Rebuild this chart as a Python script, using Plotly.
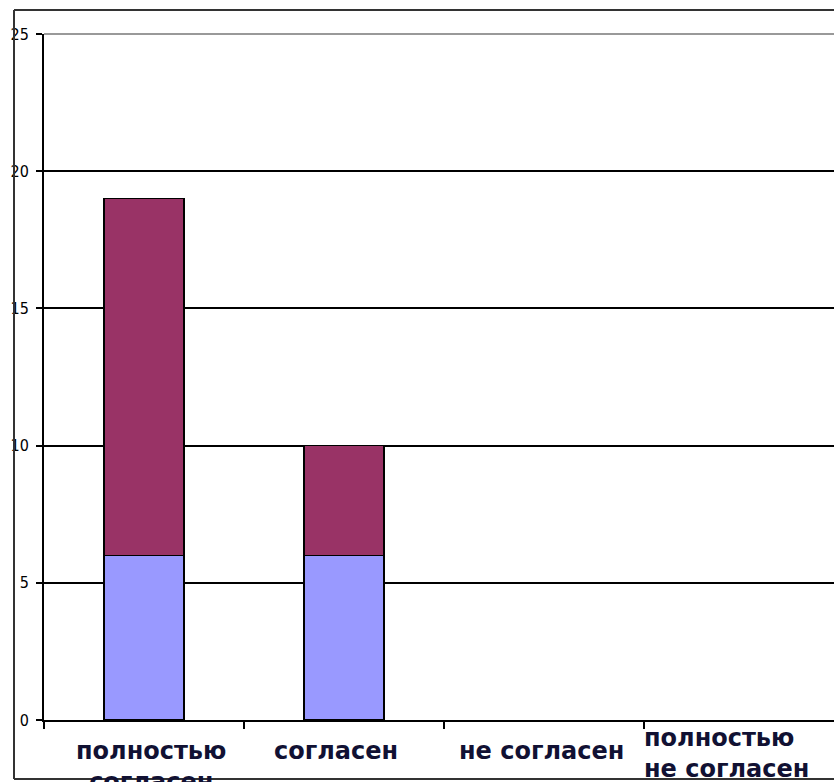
import plotly.graph_objects as go

categories = ["полностью согласен", "согласен", "не согласен", "полностью не согласен"]
series_lower = [6, 6, 0, 0]
series_upper = [13, 4, 0, 0]
label_texts = ["полностью<br>согласен", "согласен", "не согласен", "полностью<br>не согласен"]
y_ticks = [0, 5, 10, 15, 20, 25]

edge_w = [1.5, 1.5, 0, 0]

fig = go.Figure()
fig.add_trace(go.Bar(x=categories, y=series_lower, width=0.4,
                     marker=dict(color="#9999FF", line=dict(color="black", width=edge_w)),
                     showlegend=False))
fig.add_trace(go.Bar(x=categories, y=series_upper, width=0.4,
                     marker=dict(color="#993366", line=dict(color="black", width=edge_w)),
                     showlegend=False))

# category labels as annotations (placement tuned to the reference)
label_cfg = [
    dict(xshift=7, y=-0.022, yanchor="top", xanchor="center", align="center"),
    dict(xshift=-8, y=-0.022, yanchor="top", xanchor="center", align="center"),
    dict(xshift=-3, y=-0.022, yanchor="top", xanchor="center", align="center"),
    dict(xshift=-102, y=-0.003, yanchor="top", xanchor="left", align="left"),
]
for cat, txt, cfg in zip(categories, label_texts, label_cfg):
    fig.add_annotation(x=cat, xref="x", yref="paper", text=txt, showarrow=False,
                       font=dict(family="DejaVu Sans", size=24, color="#111133", weight="bold"),
                       **cfg)

fig.update_layout(
    width=834, height=782,
    margin=dict(l=44, r=0, t=34, b=62),
    barmode="stack",
    plot_bgcolor="white", paper_bgcolor="white",
    xaxis=dict(type="category", range=[-0.5, 3.45], showticklabels=False,
               ticks="outside", tickson="boundaries", ticklen=7, tickwidth=2, tickcolor="black",
               showline=True, linecolor="black", linewidth=2, showgrid=False, zeroline=False),
    yaxis=dict(range=[0, 25], tickvals=y_ticks, ticks="outside", ticklen=6, tickwidth=2,
               tickcolor="black", showline=True, linecolor="black", linewidth=2,
               showgrid=True, gridcolor="black", gridwidth=2, zeroline=False,
               ticklabelstandoff=4,
               tickfont=dict(family="DejaVu Sans Condensed, Liberation Sans Narrow, Arial Narrow", size=16, color="black")),
)

# gray top edge of plot area
fig.add_shape(type="line", xref="paper", yref="paper", x0=0, x1=1, y0=1, y1=1,
              line=dict(color="#999999", width=2), layer="above")

# outer chart border (left, top, bottom), in paper coordinates
px_w, px_h = 790.0, 686.0
left_x = (14 - 44) / px_w
top_y = (782 - 62 - 10) / px_h
bot_y = (782 - 62 - 779) / px_h
fig.add_shape(type="line", xref="paper", yref="paper", x0=left_x, x1=left_x, y0=bot_y, y1=top_y,
              line=dict(color="#333333", width=2))
fig.add_shape(type="line", xref="paper", yref="paper", x0=left_x, x1=1.05, y0=top_y, y1=top_y,
              line=dict(color="#333333", width=2))
fig.add_shape(type="line", xref="paper", yref="paper", x0=left_x, x1=1.05, y0=bot_y, y1=bot_y,
              line=dict(color="#333333", width=2), layer="above")

fig.write_html("out.html", config={"displayModeBar": False},
               post_script="document.body.style.margin='0';document.body.style.overflow='hidden';")
